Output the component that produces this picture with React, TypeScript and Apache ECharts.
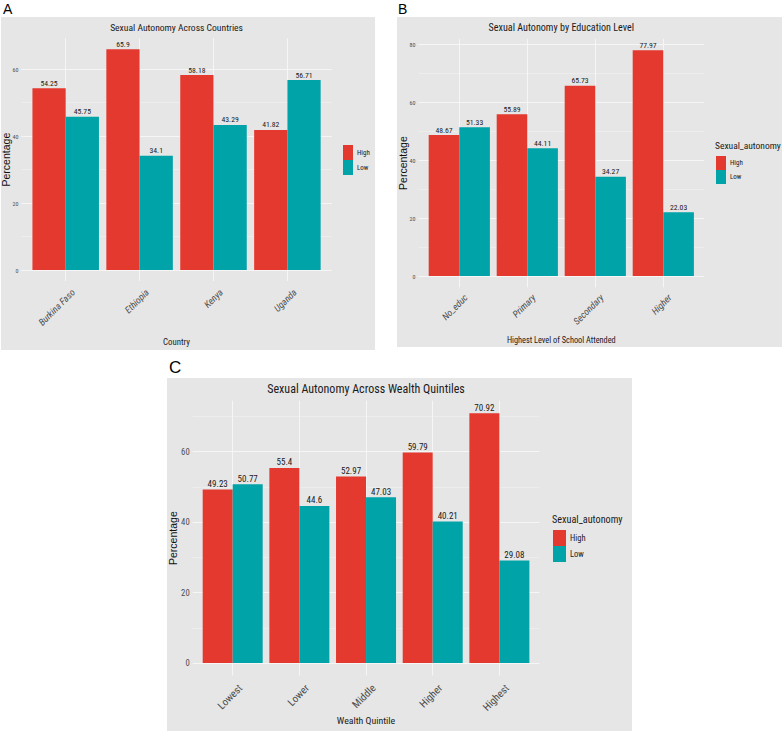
import React, { useEffect, useRef } from 'react';
import * as echarts from 'echarts';

// ---- data ----
const autonomyLevels = ['High', 'Low'];

const countries = ['Burkina Faso', 'Ethiopia', 'Kenya', 'Uganda'];
const countryHigh = [54.25, 65.9, 58.18, 41.82];
const countryLow = [45.75, 34.1, 43.29, 56.71];

const educationLevels = ['No_educ', 'Primary', 'Secondary', 'Higher'];
const educationHigh = [48.67, 55.89, 65.73, 77.97];
const educationLow = [51.33, 44.11, 34.27, 22.03];

const wealthQuintiles = ['Lowest', 'Lower', 'Middle', 'Higher', 'Highest'];
const wealthHigh = [49.23, 55.4, 52.97, 59.79, 70.92];
const wealthLow = [50.77, 44.6, 47.03, 40.21, 29.08];

// ---- styling ----
const HIGH_COLOR = '#E3392F';
const LOW_COLOR = '#00A3A8';
const PANEL_BG = '#E6E6E6';
const GRID_MAJOR = '#F6F6F6';
const GRID_MINOR = '#EDEDED';
const NARROW = "'Liberation Sans Narrow', 'Arial Narrow', 'Roboto Condensed', 'Liberation Sans', sans-serif";
const REGULAR = "'Liberation Sans', Arial, sans-serif";

type PanelSpec = {
  letter: string;
  title: string;
  xTitle: string;
  categories: string[];
  high: number[];
  low: number[];
  italic: boolean;
  box: { x: number; y: number; w: number; h: number };
  letterPos: { x: number; y: number; size: number };
  firstCenter: number;
  step: number;
  zeroY: number;
  pxPerUnit: number;
  gridMax: number;
  titleY: number;
  titleSize: number;
  xTitleY: number;
  xTitleSize: number;
  yTitleX: number;
  tickSize: number;
  xLabelSize: number;
  valueSize: number;
  labelShift: number;
  labelMargin: number;
  legend: {
    x: number;
    y: number;
    w: number;
    h: number;
    size: number;
    title: boolean;
    titleSize: number;
    titleY: number;
  };
};

const panels: PanelSpec[] = [
  {
    letter: 'A',
    title: 'Sexual Autonomy Across Countries',
    xTitle: 'Country',
    categories: countries,
    high: countryHigh,
    low: countryLow,
    italic: true,
    box: { x: 1, y: 17, w: 374, h: 333 },
    letterPos: { x: 3, y: 8.5, size: 14 },
    firstCenter: 65.7,
    step: 73.9,
    zeroY: 270,
    pxPerUnit: 3.35,
    gridMax: 60,
    titleY: 27.5,
    titleSize: 9.6,
    xTitleY: 342,
    xTitleSize: 8.8,
    yTitleX: 6,
    tickSize: 6,
    xLabelSize: 9.5,
    valueSize: 7.7,
    labelShift: 4,
    labelMargin: 6,
    legend: { x: 343, y: 145, w: 10, h: 15, size: 7, title: false, titleSize: 0, titleY: 0 },
  },
  {
    letter: 'B',
    title: 'Sexual Autonomy by Education Level',
    xTitle: 'Highest Level of School Attended',
    categories: educationLevels,
    high: educationHigh,
    low: educationLow,
    italic: true,
    box: { x: 397, y: 17, w: 385, h: 330 },
    letterPos: { x: 398, y: 8.5, size: 14 },
    firstCenter: 459.3,
    step: 68,
    zeroY: 276,
    pxPerUnit: 2.896,
    gridMax: 80,
    titleY: 27,
    titleSize: 10.1,
    xTitleY: 339.5,
    xTitleSize: 8.3,
    yTitleX: 403,
    tickSize: 6,
    xLabelSize: 9.5,
    valueSize: 7.7,
    labelShift: 3,
    labelMargin: 5,
    legend: { x: 716, y: 156, w: 10, h: 14, size: 7, title: true, titleSize: 9.5, titleY: 145 },
  },
  {
    letter: 'C',
    title: 'Sexual Autonomy Across Wealth Quintiles',
    xTitle: 'Wealth Quintile',
    categories: wealthQuintiles,
    high: wealthHigh,
    low: wealthLow,
    italic: false,
    box: { x: 167, y: 378, w: 465, h: 353 },
    letterPos: { x: 169, y: 367, size: 17 },
    firstCenter: 232.7,
    step: 66.67,
    zeroY: 663,
    pxPerUnit: 3.522,
    gridMax: 70,
    titleY: 389,
    titleSize: 12,
    xTitleY: 720,
    xTitleSize: 9.8,
    yTitleX: 173,
    tickSize: 8.7,
    xLabelSize: 10.5,
    valueSize: 9,
    labelShift: 4,
    labelMargin: 7,
    legend: { x: 553, y: 530, w: 13, h: 16, size: 8.5, title: true, titleSize: 10.2, titleY: 519 },
  },
];

function buildOption(): echarts.EChartsOption {
  const grid: any[] = [];
  const xAxis: any[] = [];
  const yAxis: any[] = [];
  const series: any[] = [];
  const legend: any[] = [];
  const graphic: any[] = [];

  panels.forEach((p) => {
    const n = p.categories.length;
    const k = p.pxPerUnit;
    const dataMax = Math.max(...p.high, ...p.low);
    const lo = -0.05 * dataMax;
    const hi = 1.05 * dataMax;
    const plotLeft = p.firstCenter - 0.6 * p.step;
    const plotWidth = (n - 1 + 1.2) * p.step;
    const plotTop = p.zeroY - hi * k;
    const plotBottom = p.zeroY - lo * k;

    // background grid: horizontal gridlines + y tick labels
    const bgIndex = grid.length;
    grid.push({
      left: plotLeft,
      top: p.zeroY - p.gridMax * k,
      width: plotWidth,
      height: p.gridMax * k,
      outerBoundsMode: 'none',
      containLabel: false,
    });
    xAxis.push({ gridIndex: bgIndex, type: 'value', min: 0, max: 1, show: false });
    yAxis.push({
      gridIndex: bgIndex,
      type: 'value',
      min: 0,
      max: p.gridMax,
      interval: 10,
      axisLine: { show: false },
      axisTick: { show: false },
      axisLabel: {
        formatter: (v: number) => (v % 20 === 0 ? String(v) : ''),
        fontSize: p.tickSize,
        fontFamily: NARROW,
        color: '#4D4D4D',
        margin: 3,
      },
      splitLine: { show: true, lineStyle: { color: [GRID_MAJOR, GRID_MINOR], width: 1 } },
    });

    // data grid: bars and vertical gridlines at category centres
    const dataIndex = grid.length;
    grid.push({
      left: p.firstCenter - p.step / 2,
      top: plotTop,
      width: n * p.step,
      height: plotBottom - plotTop,
      outerBoundsMode: 'none',
      containLabel: false,
    });
    xAxis.push({
      gridIndex: dataIndex,
      type: 'category',
      data: p.categories,
      axisLine: { show: false },
      axisTick: { show: false, alignWithLabel: true },
      axisLabel: { show: false },
      splitLine: { show: true, alignWithLabel: true, interval: 0, lineStyle: { color: GRID_MAJOR, width: 1 } },
    });
    yAxis.push({
      gridIndex: dataIndex,
      type: 'value',
      min: lo,
      max: hi,
      show: false,
      splitLine: { show: false },
    });

    // label grid: rotated category labels hanging from each tick
    const labelIndex = grid.length;
    grid.push({
      left: p.firstCenter - p.step / 2 + p.labelShift,
      top: plotTop,
      width: n * p.step,
      height: plotBottom - plotTop,
      outerBoundsMode: 'none',
      containLabel: false,
    });
    xAxis.push({
      gridIndex: labelIndex,
      type: 'category',
      data: p.categories,
      axisLine: { show: false },
      axisTick: { show: false },
      splitLine: { show: false },
      axisLabel: {
        interval: 0,
        rotate: 45,
        align: 'right',
        verticalAlign: 'top',
        margin: p.labelMargin,
        fontSize: p.xLabelSize,
        fontStyle: p.italic ? 'italic' : 'normal',
        fontFamily: NARROW,
        color: '#4D4D4D',
      },
    });
    yAxis.push({ gridIndex: labelIndex, type: 'value', min: 0, max: 1, show: false });

    const values = [p.high, p.low];
    autonomyLevels.forEach((level, i) => {
      series.push({
        type: 'bar',
        name: level,
        xAxisIndex: dataIndex,
        yAxisIndex: dataIndex,
        data: values[i],
        barGap: '0%',
        barCategoryGap: '10%',
        itemStyle: { color: i === 0 ? HIGH_COLOR : LOW_COLOR },
        label: {
          show: true,
          position: 'top',
          distance: 1,
          fontSize: p.valueSize,
          fontFamily: NARROW,
          color: '#1A1A1A',
          formatter: (d: any) => String(d.value),
        },
      });
    });

    legend.push({
      data: autonomyLevels,
      left: p.legend.x,
      top: p.legend.y,
      orient: 'vertical',
      icon: 'rect',
      itemWidth: p.legend.w,
      itemHeight: p.legend.h,
      itemGap: 0,
      padding: 0,
      selectedMode: false,
      textStyle: { fontSize: p.legend.size, fontFamily: NARROW, color: '#1A1A1A', padding: [0, 0, 0, -1] },
    });

    // panel furniture
    graphic.push({
      type: 'rect',
      z: -10,
      silent: true,
      shape: { x: p.box.x, y: p.box.y, width: p.box.w, height: p.box.h },
      style: { fill: PANEL_BG },
    });
    graphic.push({
      type: 'text',
      x: p.letterPos.x,
      y: p.letterPos.y,
      style: {
        text: p.letter,
        fontSize: p.letterPos.size,
        fontFamily: REGULAR,
        fill: '#000',
        verticalAlign: 'middle',
        align: 'left',
      },
    });
    graphic.push({
      type: 'text',
      x: plotLeft + plotWidth / 2,
      y: p.titleY,
      style: {
        text: p.title,
        fontSize: p.titleSize,
        fontFamily: NARROW,
        fill: '#1A1A1A',
        align: 'center',
        verticalAlign: 'middle',
      },
    });
    graphic.push({
      type: 'text',
      x: plotLeft + plotWidth / 2,
      y: p.xTitleY,
      style: {
        text: p.xTitle,
        fontSize: p.xTitleSize,
        fontFamily: NARROW,
        fill: '#1A1A1A',
        align: 'center',
        verticalAlign: 'middle',
      },
    });
    graphic.push({
      type: 'text',
      x: p.yTitleX,
      y: (plotTop + plotBottom) / 2,
      rotation: Math.PI / 2,
      style: {
        text: 'Percentage',
        fontSize: 10.5,
        fontFamily: REGULAR,
        fill: '#111',
        align: 'center',
        verticalAlign: 'middle',
      },
    });
    if (p.legend.title) {
      graphic.push({
        type: 'text',
        x: p.legend.x - 1,
        y: p.legend.titleY,
        style: {
          text: 'Sexual_autonomy',
          fontSize: p.legend.titleSize,
          fontFamily: NARROW,
          fill: '#1A1A1A',
          align: 'left',
          verticalAlign: 'middle',
        },
      });
    }
  });

  return {
    animation: false,
    backgroundColor: '#FFFFFF',
    grid,
    xAxis,
    yAxis,
    series,
    legend,
    graphic,
  } as echarts.EChartsOption;
}

export default function App() {
  const ref = useRef<HTMLDivElement>(null);

  useEffect(() => {
    if (!ref.current) return;
    const chart = echarts.init(ref.current, undefined, { renderer: 'svg' });
    chart.setOption(buildOption());
    return () => chart.dispose();
  }, []);

  return (
    <div
      ref={ref}
      style={{ position: 'absolute', left: 0, top: 0, width: 782, height: 732 }}
    />
  );
}
